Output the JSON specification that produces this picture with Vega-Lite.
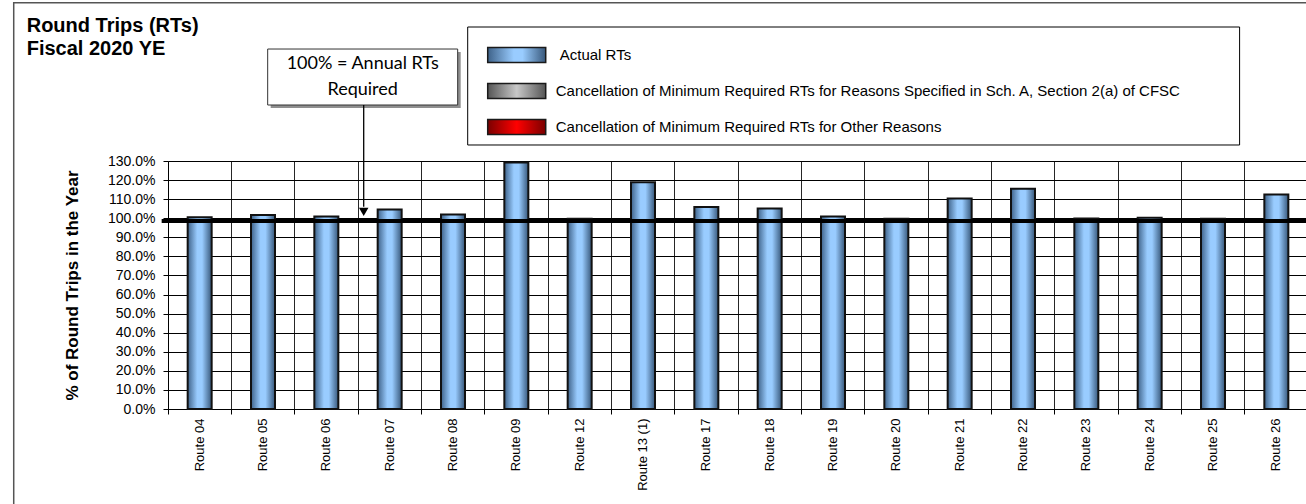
{
  "$schema": "https://vega.github.io/schema/vega-lite/v6.json",
  "width": 1140,
  "height": 248,
  "autosize": {"type": "none"},
  "padding": {"left": 168, "top": 161, "right": 0, "bottom": 95},
  "background": "white",
  "config": {"font": "Liberation Sans", "view": {"stroke": null}},
  "resolve": {"scale": {"x": "independent"}, "axis": {"y": "independent"}},
  "layer": [
    {
      "data": {"values": [{}]},
      "mark": {"type": "rect", "fill": null, "stroke": "#555", "strokeWidth": 1.5, "clip": false},
      "encoding": {
        "x": {"datum": -2.436, "type": "quantitative", "scale": {"domain": [0, 18], "nice": false, "zero": false}, "axis": null},
        "x2": {"datum": 19},
        "y": {"datum": 2.13, "type": "quantitative", "axis": null},
        "y2": {"datum": -0.6}
      }
    },
    {
      "data": {"values": [{}]},
      "mark": {"type": "rect", "fill": "white", "stroke": "#000", "strokeWidth": 1, "clip": false},
      "encoding": {
        "x": {"datum": 4.732, "type": "quantitative", "scale": {"domain": [0, 18], "nice": false, "zero": false}, "axis": null},
        "x2": {"datum": 16.92},
        "y": {"datum": 2.0024, "type": "quantitative", "axis": null},
        "y2": {"datum": 1.3839}
      }
    },
    {
      "data": {"values": [{"series": "Actual RTs"}]},
      "mark": {
        "type": "rect", "stroke": "#1a1a1a", "strokeWidth": 1.5, "clip": false,
        "color": {"gradient": "linear", "x1": 0, "y1": 0, "x2": 1, "y2": 0, "stops": [{"offset": 0, "color": "#3e6289"}, {"offset": 0.45, "color": "#99ccff"}, {"offset": 0.6, "color": "#99ccff"}, {"offset": 1, "color": "#37577a"}]}
      },
      "encoding": {
        "x": {"datum": 5.048, "type": "quantitative", "scale": {"domain": [0, 18], "nice": false, "zero": false}, "axis": null},
        "x2": {"datum": 5.964},
        "y": {"datum": 1.895, "type": "quantitative", "axis": null},
        "y2": {"datum": 1.8163}
      }
    },
    {
      "data": {"values": [{"series": "Cancellation of Minimum Required RTs for Reasons Specified in Sch. A, Section 2(a) of CFSC"}]},
      "mark": {
        "type": "rect", "stroke": "#1a1a1a", "strokeWidth": 1.5, "clip": false,
        "color": {"gradient": "linear", "x1": 0, "y1": 0, "x2": 1, "y2": 0, "stops": [{"offset": 0, "color": "#555555"}, {"offset": 0.5, "color": "#c8c8c8"}, {"offset": 1, "color": "#555555"}]}
      },
      "encoding": {
        "x": {"datum": 5.048, "type": "quantitative", "scale": {"domain": [0, 18], "nice": false, "zero": false}, "axis": null},
        "x2": {"datum": 5.964},
        "y": {"datum": 1.7063, "type": "quantitative", "axis": null},
        "y2": {"datum": 1.6276}
      }
    },
    {
      "data": {"values": [{"series": "Cancellation of Minimum Required RTs for Other Reasons"}]},
      "mark": {
        "type": "rect", "stroke": "#1a1a1a", "strokeWidth": 1.5, "clip": false,
        "color": {"gradient": "linear", "x1": 0, "y1": 0, "x2": 1, "y2": 0, "stops": [{"offset": 0, "color": "#7a0000"}, {"offset": 0.5, "color": "#ff0000"}, {"offset": 1, "color": "#7a0000"}]}
      },
      "encoding": {
        "x": {"datum": 5.048, "type": "quantitative", "scale": {"domain": [0, 18], "nice": false, "zero": false}, "axis": null},
        "x2": {"datum": 5.964},
        "y": {"datum": 1.5175, "type": "quantitative", "axis": null},
        "y2": {"datum": 1.4389}
      }
    },
    {
      "data": {"values": [{"series": "Actual RTs"}]},
      "mark": {"type": "text", "fontSize": 15, "align": "left", "baseline": "middle", "color": "#000", "clip": false},
      "encoding": {
        "x": {"datum": 6.185, "type": "quantitative", "scale": {"domain": [0, 18], "nice": false, "zero": false}, "axis": null},
        "y": {"datum": 1.8556, "type": "quantitative", "axis": null},
        "text": {"field": "series"}
      }
    },
    {
      "data": {"values": [{"series": "Cancellation of Minimum Required RTs for Reasons Specified in Sch. A, Section 2(a) of CFSC"}]},
      "mark": {"type": "text", "fontSize": 15, "align": "left", "baseline": "middle", "color": "#000", "clip": false},
      "encoding": {
        "x": {"datum": 6.122, "type": "quantitative", "scale": {"domain": [0, 18], "nice": false, "zero": false}, "axis": null},
        "y": {"datum": 1.6669, "type": "quantitative", "axis": null},
        "text": {"field": "series"}
      }
    },
    {
      "data": {"values": [{"series": "Cancellation of Minimum Required RTs for Other Reasons"}]},
      "mark": {"type": "text", "fontSize": 15, "align": "left", "baseline": "middle", "color": "#000", "clip": false},
      "encoding": {
        "x": {"datum": 6.122, "type": "quantitative", "scale": {"domain": [0, 18], "nice": false, "zero": false}, "axis": null},
        "y": {"datum": 1.4782, "type": "quantitative", "axis": null},
        "text": {"field": "series"}
      }
    },
    {
      "data": {
        "values": [
          {"route": "Route 04", "value": 1.005},
          {"route": "Route 05", "value": 1.017},
          {"route": "Route 06", "value": 1.009},
          {"route": "Route 07", "value": 1.046},
          {"route": "Route 08", "value": 1.020},
          {"route": "Route 09", "value": 1.292},
          {"route": "Route 12", "value": 0.997},
          {"route": "Route 13 (1)", "value": 1.189},
          {"route": "Route 17", "value": 1.059},
          {"route": "Route 18", "value": 1.051},
          {"route": "Route 19", "value": 1.009},
          {"route": "Route 20", "value": 0.997},
          {"route": "Route 21", "value": 1.103},
          {"route": "Route 22", "value": 1.155},
          {"route": "Route 23", "value": 0.998},
          {"route": "Route 24", "value": 1.002},
          {"route": "Route 25", "value": 0.997},
          {"route": "Route 26", "value": 1.124}
        ]
      },
      "mark": {
        "type": "bar", "width": 24, "stroke": "#111", "strokeWidth": 2, "clip": false,
        "color": {"gradient": "linear", "x1": 0, "y1": 0, "x2": 1, "y2": 0, "stops": [{"offset": 0, "color": "#3e6289"}, {"offset": 0.4, "color": "#99ccff"}, {"offset": 0.6, "color": "#99ccff"}, {"offset": 1, "color": "#37577a"}]}
      },
      "encoding": {
        "x": {
          "field": "route", "type": "nominal", "sort": null,
          "scale": {"paddingInner": 0, "paddingOuter": 0},
          "axis": {
            "title": null, "orient": "bottom", "bandPosition": 0, "grid": true, "gridColor": "#000", "gridWidth": 1, "gridOpacity": 0.85,
            "labelAngle": 270, "labelFontSize": 13, "labelColor": "#000", "labelPadding": 4,
            "tickSize": 5, "tickColor": "#000", "domainColor": "#000", "domainWidth": 1
          }
        },
        "y": {
          "field": "value", "type": "quantitative",
          "scale": {"domain": [0, 1.3], "nice": false, "zero": true},
          "axis": {
            "orient": "left",
            "title": "% of Round Trips in the Year", "format": ".1%",
            "values": [0, 0.1, 0.2, 0.3, 0.4, 0.5, 0.6, 0.7, 0.8, 0.9, 1, 1.1, 1.2, 1.3],
            "labelOverlap": false,
            "grid": true, "gridColor": "#000", "gridWidth": 1,
            "tickSize": 5, "tickColor": "#000", "domainColor": "#000",
            "labelFontSize": 14, "labelColor": "#000", "labelPadding": 8,
            "titleFontSize": 17, "titleFontWeight": "bold", "titleColor": "#000", "titlePadding": 26
          }
        }
      }
    },
    {
      "data": {"values": [{}]},
      "mark": {"type": "rule", "strokeWidth": 4, "color": "#000", "clip": false},
      "encoding": {
        "x": {"datum": -0.1, "type": "quantitative", "scale": {"domain": [0, 18], "nice": false, "zero": false}, "axis": null},
        "x2": {"datum": 18},
        "y": {"datum": 0.985, "type": "quantitative", "axis": null}
      }
    },
    {
      "data": {"values": [{}]},
      "mark": {"type": "rect", "fill": "#8f8f8f", "xOffset": 3, "x2Offset": 3, "yOffset": 3, "y2Offset": 3, "clip": false},
      "encoding": {
        "x": {"datum": 1.574, "type": "quantitative", "scale": {"domain": [0, 18], "nice": false, "zero": false}, "axis": null},
        "x2": {"datum": 4.574},
        "y": {"datum": 1.887, "type": "quantitative", "axis": null},
        "y2": {"datum": 1.5935}
      }
    },
    {
      "data": {"values": [{}]},
      "mark": {"type": "rect", "fill": "white", "stroke": "#333", "strokeWidth": 1, "clip": false},
      "encoding": {
        "x": {"datum": 1.574, "type": "quantitative", "scale": {"domain": [0, 18], "nice": false, "zero": false}, "axis": null},
        "x2": {"datum": 4.574},
        "y": {"datum": 1.887, "type": "quantitative", "axis": null},
        "y2": {"datum": 1.5935}
      }
    },
    {
      "data": {"values": [{}]},
      "mark": {"type": "text", "text": ["100% = Annual RTs", "Required"], "font": "Lato", "fontSize": 18, "lineHeight": 26, "align": "center", "baseline": "middle", "color": "#000", "clip": false},
      "encoding": {
        "x": {"datum": 3.074, "type": "quantitative", "scale": {"domain": [0, 18], "nice": false, "zero": false}, "axis": null},
        "y": {"datum": 1.8085, "type": "quantitative", "axis": null}
      }
    },
    {
      "data": {"values": [{}]},
      "mark": {"type": "rule", "strokeWidth": 1.3, "color": "#000", "clip": false},
      "encoding": {
        "x": {"datum": 3.09, "type": "quantitative", "scale": {"domain": [0, 18], "nice": false, "zero": false}, "axis": null},
        "y": {"datum": 1.5935, "type": "quantitative", "axis": null},
        "y2": {"datum": 1.06}
      }
    },
    {
      "data": {"values": [{}]},
      "mark": {"type": "point", "shape": "triangle-down", "filled": true, "size": 90, "color": "#000", "opacity": 1, "clip": false},
      "encoding": {
        "x": {"datum": 3.09, "type": "quantitative", "scale": {"domain": [0, 18], "nice": false, "zero": false}, "axis": null},
        "y": {"datum": 1.033, "type": "quantitative", "axis": null}
      }
    },
    {
      "data": {"values": [{}]},
      "mark": {"type": "text", "text": ["Round Trips (RTs)", "Fiscal 2020 YE"], "fontSize": 20, "fontWeight": "bold", "lineHeight": 23, "align": "left", "baseline": "middle", "color": "#000", "clip": false},
      "encoding": {
        "x": {"datum": -2.231, "type": "quantitative", "scale": {"domain": [0, 18], "nice": false, "zero": false}, "axis": null},
        "y": {"datum": 2.0077, "type": "quantitative", "axis": null}
      }
    }
  ]
}
